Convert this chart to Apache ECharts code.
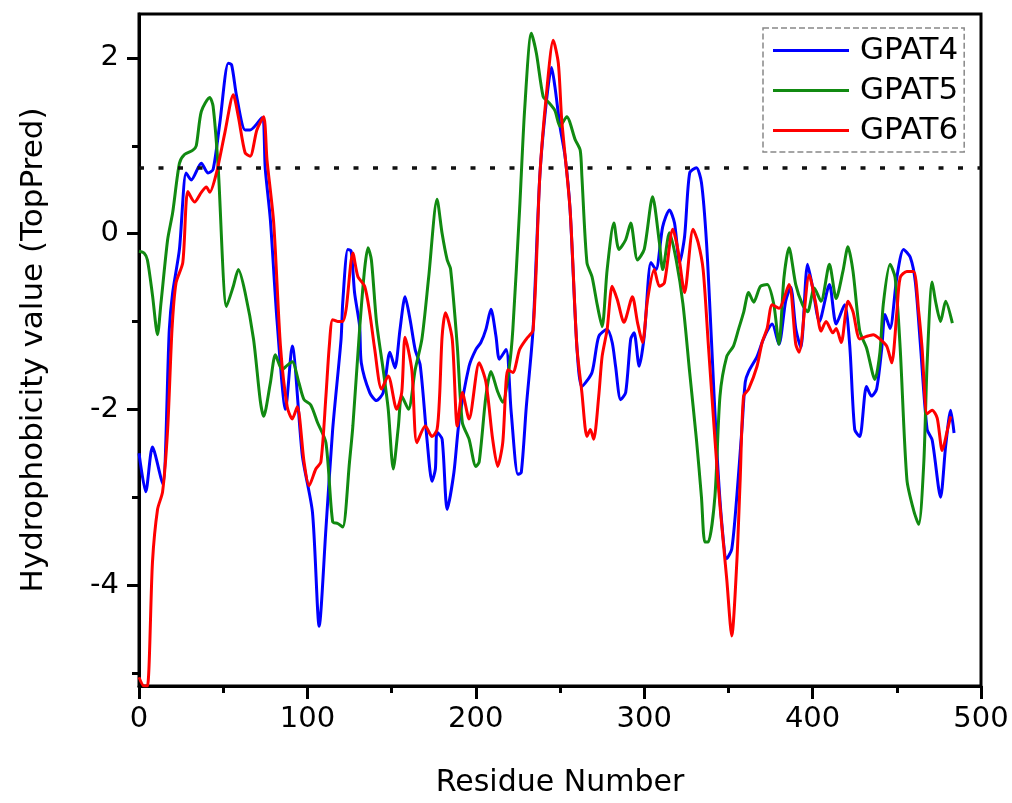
<!DOCTYPE html>
<html><head><meta charset="utf-8">
<script src="https://cdn.jsdelivr.net/npm/echarts@6/dist/echarts.min.js"></script>
<style>html,body{margin:0;padding:0;background:#fff}#c{width:1012px;height:803px}</style>
</head><body><div id="c"></div>
<script>
const seriesNames = ['GPAT4', 'GPAT5', 'GPAT6'];
const threshold = 0.75;
const yMajorTicks = [-4, -2, 0, 2];
const yMinorTicks = [-5, -3, -1, 1];

const gpat4X = [0,4,8,14,18,20,24,28,31,37,41,44,48,53,55,58,63,66,73,75,78,82,87,91,97,103,107,111,115,120,121,124,126,128,131,132,137,141,145,149,152,155,158,161,164,167,171,174,176,177,180,183,187,190,196,200,203,206,209,212,214,218,221,225,227,230,234,238,242,245,247,250,253,256,260,263,269,273,278,281,283,286,289,292,294,297,300,304,307,311,315,318,321,324,327,331,334,337,340,343,346,349,352,355,358,360,362,367,370,373,376,380,384,387,390,393,397,400,404,410,414,419,422,425,428,432,435,438,441,443,446,450,454,458,461,464,468,471,476,479,482,484];
const gpat4Y = [-2.5,-2.94,-2.43,-2.85,-1.09,-0.67,-0.18,0.69,0.61,0.8,0.69,0.73,1.26,1.94,1.92,1.56,1.18,1.18,1.32,0.73,0.16,-1.0,-2.0,-1.28,-2.53,-3.17,-4.47,-3.36,-2.23,-1.2,-0.78,-0.18,-0.2,-0.67,-1.05,-1.47,-1.81,-1.9,-1.81,-1.35,-1.53,-1.09,-0.72,-0.98,-1.32,-1.5,-2.34,-2.82,-2.68,-2.26,-2.34,-3.14,-2.72,-2.15,-1.51,-1.32,-1.24,-1.09,-0.86,-1.17,-1.43,-1.32,-2.03,-2.74,-2.72,-1.97,-1.09,0.65,1.52,1.89,1.67,1.22,0.88,0.27,-1.28,-1.74,-1.58,-1.17,-1.09,-1.24,-1.51,-1.89,-1.81,-1.2,-1.13,-1.51,-1.17,-0.33,-0.41,0.08,0.27,0.12,-0.33,-0.03,0.69,0.75,0.58,-0.1,-1.24,-2.42,-3.28,-3.7,-3.59,-2.99,-2.23,-1.69,-1.57,-1.4,-1.24,-1.11,-1.03,-1.26,-0.77,-0.61,-1.08,-1.3,-0.35,-0.61,-1.0,-0.58,-1.03,-0.81,-1.26,-2.23,-2.31,-1.74,-1.85,-1.77,-1.32,-0.92,-1.08,-0.5,-0.18,-0.27,-0.55,-1.26,-2.23,-2.35,-3.0,-2.42,-2.01,-2.27];

const gpat5X = [0,3,5,8,11,13,17,20,24,27,32,34,37,42,44,47,52,56,59,63,68,72,74,78,81,85,88,91,95,98,102,106,111,115,118,121,125,127,131,134,136,138,141,145,148,151,154,156,160,164,168,172,177,180,183,185,189,192,196,200,202,206,209,213,216,220,222,226,229,233,236,240,243,247,250,254,259,262,263,266,269,272,275,278,282,285,289,292,296,300,305,309,311,315,319,323,327,331,334,336,338,342,345,349,353,356,359,362,365,369,373,377,380,383,386,390,394,397,401,405,410,414,418,421,424,428,432,437,440,442,446,449,452,456,460,463,466,468,471,473,476,479,483];
const gpat5Y = [-0.2,-0.22,-0.3,-0.7,-1.15,-0.8,-0.07,0.24,0.8,0.9,0.95,1.0,1.39,1.55,1.45,0.76,-0.83,-0.6,-0.41,-0.67,-1.2,-1.9,-2.08,-1.7,-1.38,-1.55,-1.5,-1.46,-1.7,-1.89,-1.95,-2.15,-2.38,-3.28,-3.3,-3.34,-2.6,-2.19,-1.09,-0.4,-0.16,-0.3,-1.0,-1.55,-2.0,-2.68,-2.2,-1.85,-2.0,-1.55,-1.2,-0.5,0.39,0.0,-0.3,-0.4,-1.28,-2.15,-2.34,-2.65,-2.6,-1.85,-1.57,-1.8,-1.92,-1.5,-1.09,0.27,1.41,2.28,2.05,1.56,1.5,1.4,1.22,1.33,1.07,0.95,0.65,-0.33,-0.49,-0.8,-1.06,-0.41,0.12,-0.18,-0.07,0.12,-0.3,-0.18,0.42,-0.1,-0.41,0.01,-0.3,-0.8,-1.58,-2.34,-3.0,-3.51,-3.51,-2.99,-1.85,-1.4,-1.28,-1.09,-0.9,-0.67,-0.78,-0.6,-0.58,-0.81,-1.26,-0.5,-0.16,-0.58,-0.81,-0.89,-0.62,-0.77,-0.35,-0.74,-0.43,-0.15,-0.43,-1.11,-1.3,-1.66,-1.35,-0.8,-0.35,-0.5,-1.3,-2.8,-3.15,-3.31,-2.62,-1.48,-0.55,-0.77,-1.0,-0.77,-1.02];

const gpat6X = [0,3,5,8,11,14,17,19.6,22,26,29,33,37,40,42,46,51,56,59,63,66,70,74,76,80,84,88,91,94,98,101,105,108,111,113,115,118,121,123,127,130,134,137,140,144,148,153,156,158,162,165,170,174,177,178.5,180,182,186,189,192,196,202,206,210,213,216,219,222,226,230,234,238,242,246,249,251,256,260,263,266,268,270,273,275,278,281,284,288,293,296,299,302,306,309,312,317,320,324,329,332,335,338,342,345,349,352,355,357,359,362,367,370,373,376,380,386,390,392,398,402,405,408,412,414,417,421,424,428,432,436,440,444,447,450,452,456,460,463,465,468,471,474,477,480,482];
const gpat6Y = [-5.05,-5.15,-5.15,-3.74,-3.14,-2.94,-2.23,-1.09,-0.56,-0.33,0.48,0.36,0.47,0.53,0.47,0.69,1.15,1.58,1.33,0.92,0.88,1.18,1.33,0.84,0.12,-1.28,-1.97,-2.11,-1.97,-2.6,-2.87,-2.68,-2.6,-1.85,-1.28,-0.98,-1.0,-1.0,-0.86,-0.22,-0.49,-0.6,-0.9,-1.32,-1.77,-1.62,-2.0,-1.81,-1.18,-1.55,-2.38,-2.19,-2.31,-2.23,-1.85,-1.17,-0.9,-1.2,-2.19,-1.81,-2.11,-1.47,-1.69,-2.34,-2.65,-2.38,-1.55,-1.58,-1.32,-1.2,-1.1,0.65,1.6,2.2,1.94,1.3,0.27,-1.28,-1.81,-2.31,-2.23,-2.34,-1.85,-1.4,-1.09,-0.6,-0.75,-1.01,-0.72,-1.01,-1.24,-0.75,-0.41,-0.6,-0.56,0.05,-0.18,-0.67,0.05,-0.1,-0.41,-1.24,-2.34,-3.1,-3.93,-4.58,-3.74,-2.8,-1.85,-1.77,-1.51,-1.24,-1.08,-0.81,-0.85,-0.58,-1.26,-1.35,-0.47,-0.81,-1.11,-1.0,-1.13,-1.08,-1.24,-0.77,-0.89,-1.2,-1.17,-1.15,-1.2,-1.28,-1.47,-0.9,-0.5,-0.43,-0.43,-0.89,-1.3,-2.05,-2.01,-2.1,-2.47,-2.24,-2.08];

const colors = ['#0000ff', '#118a11', '#ff0000'];
const FONT = 'DejaVu Sans';
const pair = (xs, ys) => xs.map((x, i) => [x, ys[i]]);
const datasets = [pair(gpat4X, gpat4Y), pair(gpat5X, gpat5Y), pair(gpat6X, gpat6Y)];

const chart = echarts.init(document.getElementById('c'), null, {renderer: 'canvas'});
chart.setOption({
  animation: false,
  backgroundColor: '#ffffff',
  grid: {left: 139, right: 31, top: 14, bottom: 114, show: true, borderColor: '#000', borderWidth: 3, backgroundColor: 'transparent'},
  legend: {
    orient: 'vertical', left: 763, top: 28,
    padding: [7, 6, 6, 10], itemGap: 9,
    borderColor: '#888', borderWidth: 1.5, borderType: 'dashed',
    icon: 'rect', itemWidth: 76, itemHeight: 3,
    textStyle: {fontFamily: FONT, fontSize: 31, color: '#000', padding: [0, 0, 0, 6]},
    data: seriesNames
  },
  xAxis: {
    type: 'value', min: 0, max: 500, interval: 100,
    name: 'Residue Number', nameLocation: 'middle', nameGap: 82,
    nameTextStyle: {fontFamily: FONT, fontSize: 30, color: '#000'},
    axisLine: {show: true, onZero: false, lineStyle: {color: '#000', width: 3}},
    axisTick: {show: true, length: 13, lineStyle: {color: '#000', width: 3}},
    minorTick: {show: true, splitNumber: 2, length: 7, lineStyle: {color: '#000', width: 3}},
    axisLabel: {fontFamily: FONT, fontSize: 29, color: '#000', margin: 19},
    splitLine: {show: false}, minorSplitLine: {show: false}
  },
  yAxis: [{
    type: 'value', min: -5.15, max: 2.5, position: 'left',
    name: 'Hydrophobicity value (TopPred)', nameLocation: 'middle', nameGap: 90, nameRotate: 90,
    nameTextStyle: {fontFamily: FONT, fontSize: 31, color: '#000'},
    axisLine: {show: true, onZero: false, lineStyle: {color: '#000', width: 3}},
    axisTick: {show: true, length: 12, customValues: yMajorTicks, lineStyle: {color: '#000', width: 3}},
    axisLabel: {fontFamily: FONT, fontSize: 29, color: '#000', margin: 20, customValues: yMajorTicks},
    splitLine: {show: false}
  }, {
    type: 'value', min: -5.15, max: 2.5, position: 'left', offset: 0,
    axisLine: {show: false},
    axisTick: {show: true, length: 7, customValues: yMinorTicks, lineStyle: {color: '#000', width: 3}},
    axisLabel: {show: false},
    splitLine: {show: false}
  }],
  series: seriesNames.map((name, i) => ({
    name, type: 'line', data: datasets[i], yAxisIndex: 0,
    showSymbol: false, symbol: 'none', smooth: 0.25,
    lineStyle: {color: colors[i], width: 3}, itemStyle: {color: colors[i]},
    z: 2 + i,
    markLine: i === 0 ? {
      silent: true, symbol: 'none', label: {show: false},
      lineStyle: {color: '#111', width: 3.5, type: [5, 14.5]},
      data: [{yAxis: threshold}]
    } : undefined
  }))
});
</script></body></html>
